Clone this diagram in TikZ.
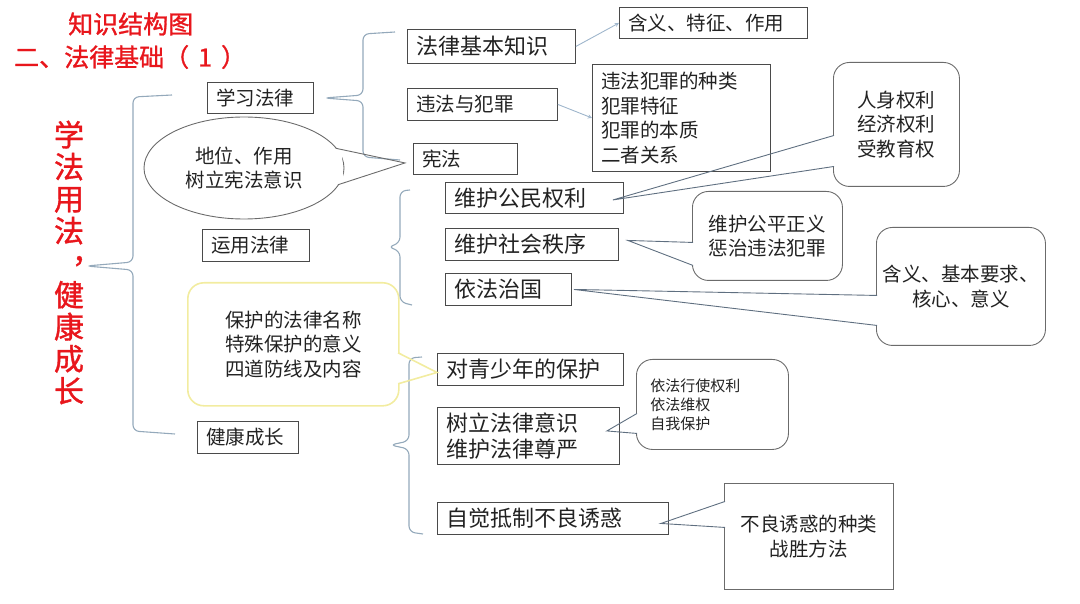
\documentclass[tikz,border=0pt]{standalone}
\usepackage{fontspec}
\setmainfont{Noto Sans CJK SC}
\newfontfamily\titlefont[FakeBold=1.2]{Noto Sans CJK SC}
\usetikzlibrary{shapes.geometric,calc}
\definecolor{boxcol}{HTML}{4A4A4A}
\definecolor{bubcol}{HTML}{6B6B6B}
\definecolor{tailcol}{HTML}{5F6F80}
\definecolor{arrcol}{HTML}{9FB6CC}
\definecolor{bracecol}{HTML}{94A9BB}
\definecolor{yelcol}{HTML}{F2ECA0}
\definecolor{titlered}{HTML}{E8161C}
\definecolor{txtcol}{HTML}{222222}

\begin{document}
\begin{tikzpicture}[x=1pt,y=-1pt,>=stealth,
  box/.style={draw=boxcol,line width=0.9pt,anchor=north west,inner xsep=9pt,inner ysep=2pt,align=left,text=txtcol,font=\fontsize{19.5}{24.5}\selectfont},
  bigtxt/.style={font=\fontsize{22}{26}\selectfont},
  bubble/.style={draw=bubcol,line width=0.9pt,rounded corners=16pt,anchor=north west,align=center,text=txtcol,font=\fontsize{19.5}{24.5}\selectfont},
  tail/.style={draw=tailcol,line width=0.9pt},
  bline/.style={draw=bracecol,line width=1.1pt,rounded corners=6pt},
  arr/.style={->,draw=arrcol,line width=0.9pt},
  redtitle/.style={text=titlered,inner sep=0pt,anchor=west,font=\titlefont\fontsize{25}{30}\selectfont}]
  \useasboundingbox (0,0) rectangle (1080,604);

  % Titles
  \node[redtitle] (t1) at (68,24) {知识结构图};
  \node[redtitle] (t2) at (14,57) {二、法律基础（\hspace{9pt}1\hspace{9pt}）};
  \node[text=titlered,align=center,font=\titlefont\fontsize{30}{32}\selectfont] (root) at (69,262.5)
    {学\\法\\用\\法\\\makebox[0pt][l]{\raisebox{11pt}[0pt][0pt]{\hspace{3pt}，}}\\健\\康\\成\\长};

  % Level 1
  \node[box,text width=88pt,minimum height=31pt] (xxfl) at (207,82) {学习法律};
  \node[box,text width=89pt,minimum height=32pt] (yyfl) at (202,229) {运用法律};
  \node[box,text width=83pt,minimum height=32pt] (jkcz) at (197,421) {健康成长};

  % Branch 1
  \node[box,bigtxt,text width=150pt,minimum height=34pt] (jbzs) at (407,29) {法律基本知识};
  \node[box,text width=132pt,minimum height=32pt] (wffz) at (407,88) {违法与犯罪};
  \node[box,text width=86pt,minimum height=31pt] (xf) at (413,143) {宪法};
  \node[box,text width=170pt,minimum height=31pt] (hy) at (619,7) {含义、特征、作用};
  \node[box,text width=160pt,minimum height=107pt] (zl) at (592,64) {违法犯罪的种类\\犯罪特征\\犯罪的本质\\二者关系};
  \node[ellipse,draw=bubcol,line width=0.9pt,minimum width=200pt,minimum height=102pt,inner sep=0pt,align=center,text=txtcol,font=\fontsize{19.5}{24.5}\selectfont] (dw) at (244,168) {地位、作用\\树立宪法意识};

  % Branch 2
  \node[box,bigtxt,text width=160pt,minimum height=31pt] (gm) at (445,182) {维护公民权利};
  \node[box,bigtxt,text width=155pt,minimum height=32pt] (sh) at (445,228) {维护社会秩序};
  \node[box,bigtxt,text width=108pt,minimum height=32pt] (yf) at (445,273) {依法治国};
  \node[bubble,minimum width=126pt,minimum height=124pt] (rs) at (833,62) {人身权利\\经济权利\\受教育权};
  \node[bubble,minimum width=150pt,minimum height=89pt] (gp) at (692,191) {维护公平正义\\惩治违法犯罪};
  \node[bubble,minimum width=169pt,minimum height=118pt] (jbyq) at (876,227) {含义、基本要求、\\核心、意义};

  % Branch 3
  \node[box,bigtxt,text width=168pt,minimum height=32pt] (qs) at (437,353) {对青少年的保护};
  \node[box,bigtxt,text width=164pt,minimum height=57pt] (sl) at (437,407) {树立法律意识\\维护法律尊严};
  \node[box,bigtxt,text width=213pt,minimum height=32pt] (zj) at (437,502) {自觉抵制不良诱惑};
  \node[bubble,draw=yelcol,line width=1.6pt,minimum width=211pt,minimum height=123pt,align=left] (bhmc) at (187,282) {保护的法律名称\\特殊保护的意义\\四道防线及内容};
  \node[bubble,inner xsep=14pt,text width=124pt,minimum height=90pt,align=left,font=\fontsize{15}{19}\selectfont] (yfxs) at (636,359) {依法行使权利\\依法维权\\自我保护};
  \node[box,draw=bubcol,align=center,minimum width=169pt,minimum height=106pt] (bl) at (724,483) {不良诱惑的种类\\战胜方法};

  % Braces
  \draw[bline] (172,95) -- (133,97) -- (133,262) -- (86,266) -- (133,270) -- (133,431) -- (175,434);
  \draw[bline] (395,32) -- (363,34) -- (363,95) -- (324,98) -- (363,101) -- (363,157) -- (400,160);
  \draw[bline] (410,190) -- (400,191) -- (400,243) -- (388,247) -- (400,251) -- (400,302) -- (412,305);
  \draw[bline] (422,357) -- (409,358) -- (409,441) -- (390,445) -- (409,449) -- (409,532) -- (423,534);

  % Arrows
  \draw[arr] (jbzs.east) -- (hy.west);
  \draw[arr] (wffz.east) -- (zl.west);

  % Tails
  \coordinate (dwA) at ($(dw.12)+(-1,0)$);
  \coordinate (dwB) at ($(dw.-10)+(-1,0)$);
  \coordinate (dwT) at ($(xf.west)+(-8,4)$);
  \fill[white] (dwA) -- ($(dwA)!6pt!(dwT)$) -- ($(dwB)!6pt!(dwT)$) -- (dwB) -- cycle;
  \draw[tail,draw=bubcol] (dwA) -- (dwT) -- (dwB);

  \coordinate (rsA) at ($(rs.west)+(1,11)$);
  \coordinate (rsB) at ($(rs.west)+(1,42)$);
  \coordinate (rsT) at ($(gm.east)+(-11,2)$);
  \fill[white] (rsA) -- ($(rsA)!5pt!(rsT)$) -- ($(rsB)!5pt!(rsT)$) -- (rsB) -- cycle;
  \draw[tail] (rsA) -- (rsT) -- (rsB);

  \coordinate (gpA) at ($(gp.west)+(1,6.5)$);
  \coordinate (gpB) at ($(gp.west)+(1,29.5)$);
  \coordinate (gpT) at ($(sh.east)+(9,-4)$);
  \fill[white] (gpA) -- ($(gpA)!5pt!(gpT)$) -- ($(gpB)!5pt!(gpT)$) -- (gpB) -- cycle;
  \draw[tail] (gpA) -- (gpT) -- (gpB);

  \coordinate (jbA) at ($(jbyq.west)+(1,9)$);
  \coordinate (jbB) at ($(jbyq.west)+(1,39)$);
  \coordinate (jbT) at ($(yf.east)+(2,0)$);
  \fill[white] (jbA) -- ($(jbA)!5pt!(jbT)$) -- ($(jbB)!5pt!(jbT)$) -- (jbB) -- cycle;
  \draw[tail] (jbA) -- (jbT) -- (jbB);

  \coordinate (bhA) at ($(bhmc.east)+(-1.5,8.5)$);
  \coordinate (bhB) at ($(bhmc.east)+(-1.5,39.5)$);
  \coordinate (bhT) at ($(qs.west)+(0,3)$);
  \fill[white] (bhA) -- ($(bhA)!5pt!(bhT)$) -- ($(bhB)!5pt!(bhT)$) -- (bhB) -- cycle;
  \draw[tail,draw=yelcol,line width=1.6pt] (bhA) -- (bhT) -- (bhB);

  \coordinate (ysA) at ($(yfxs.west)+(1,9)$);
  \coordinate (ysB) at ($(yfxs.west)+(1,29)$);
  \coordinate (ysT) at ($(sl.east)+(-13,-5)$);
  \fill[white] (ysA) -- ($(ysA)!5pt!(ysT)$) -- ($(ysB)!5pt!(ysT)$) -- (ysB) -- cycle;
  \draw[tail] (ysA) -- (ysT) -- (ysB);

  \coordinate (blA) at ($(bl.west)+(1,-35)$);
  \coordinate (blB) at ($(bl.west)+(1,-9)$);
  \coordinate (blT) at ($(zj.east)+(-8,5)$);
  \fill[white] (blA) -- ($(blA)!5pt!(blT)$) -- ($(blB)!5pt!(blT)$) -- (blB) -- cycle;
  \draw[tail] (blA) -- (blT) -- (blB);
\end{tikzpicture}
\end{document}
